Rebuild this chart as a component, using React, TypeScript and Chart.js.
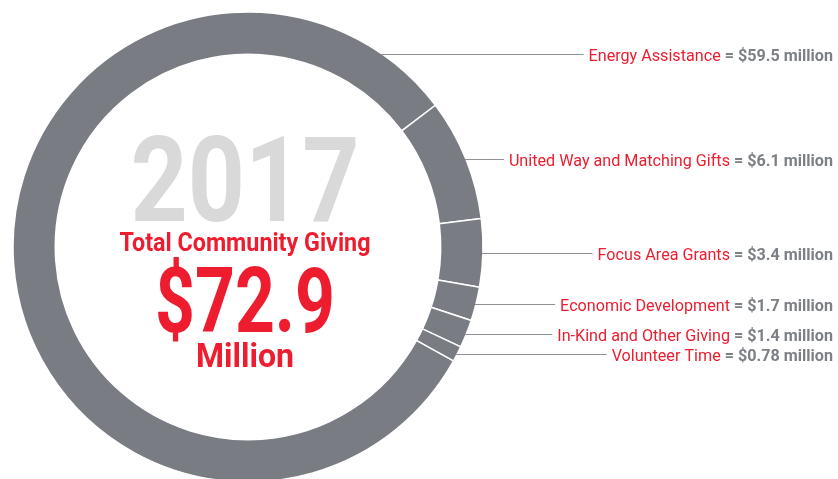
import React, { useEffect, useRef } from "react";
import { Chart, registerables } from "chart.js";

Chart.register(...registerables);

const categories = [
  "Energy Assistance",
  "United Way and Matching Gifts",
  "Focus Area Grants",
  "Economic Development",
  "In-Kind and Other Giving",
  "Volunteer Time",
];
const amounts = [59.5, 6.1, 3.4, 1.7, 1.4, 0.78];
const amountLabels = [
  "$59.5 million",
  "$6.1 million",
  "$3.4 million",
  "$1.7 million",
  "$1.4 million",
  "$0.78 million",
];
const yearLabel = "2017";
const titleLabel = "Total Community Giving";
const totalLabel = "$72.9";
const unitLabel = "Million";

const RED = "#ED1C2E";
const RING = "#797D83";
const GRAY_TEXT = "#7C8085";
const LIGHT = "#D9D9D9";
const LINE = "#8E9195";
const FONT = "Roboto, 'Liberation Sans', sans-serif";

function drawFit(ctx: CanvasRenderingContext2D, text: string, x: number, y: number, font: string, width: number, color: string) {
  ctx.save();
  ctx.font = font;
  ctx.fillStyle = color;
  ctx.textAlign = "center";
  ctx.textBaseline = "alphabetic";
  const w = ctx.measureText(text).width;
  ctx.translate(x, y);
  ctx.scale(width / w, 1);
  ctx.fillText(text, 0, 0);
  ctx.restore();
}

const overlayPlugin = {
  id: "overlay",
  afterDraw(chart: any) {
    const ctx: CanvasRenderingContext2D = chart.ctx;
    const meta = chart.getDatasetMeta(0);
    const arcs = meta.data;
    if (!arcs.length) return;
    const cx = arcs[0].x;
    const cy = arcs[0].y;
    const R = arcs[0].outerRadius;

    // center texts
    const tx = cx - 3;
    drawFit(ctx, yearLabel, tx, cy - 26, `bold 118px ${FONT}`, 229, LIGHT);
    drawFit(ctx, titleLabel, tx, cy + 4, `bold 25px ${FONT}`, 251, RED);
    drawFit(ctx, totalLabel, tx, cy + 85, `bold 91px ${FONT}`, 180, RED);
    drawFit(ctx, unitLabel, tx, cy + 120, `bold 33px ${FONT}`, 98, RED);

    // labels with leader lines
    const right = chart.width - 5;
    const sx = 0.95;
    arcs.forEach((arc: any, i: number) => {
      const span = arc.endAngle - arc.startAngle;
      const ang = span > Math.PI ? arc.endAngle - 0.32 : (arc.startAngle + arc.endAngle) / 2;
      const ly = Math.round(cy + R * Math.sin(ang));
      const dy = ly - cy;
      const lx0 = cx + Math.sqrt(Math.max(R * R - dy * dy, 0));

      ctx.save();
      ctx.textBaseline = "alphabetic";
      ctx.textAlign = "left";
      ctx.font = `bold 17px ${FONT}`;
      const grayText = "= " + amountLabels[i];
      const gw = ctx.measureText(grayText).width * sx;
      ctx.font = `17px ${FONT}`;
      const redText = categories[i];
      const rw = ctx.measureText(redText).width * sx;
      const space = 4;
      const gx = right - gw;
      const rx = gx - space - rw;
      const by = ly + 6.5;

      ctx.save();
      ctx.translate(rx, by);
      ctx.scale(sx, 1);
      ctx.fillStyle = RED;
      ctx.font = `17px ${FONT}`;
      ctx.fillText(redText, 0, 0);
      ctx.restore();

      ctx.save();
      ctx.translate(gx, by);
      ctx.scale(sx, 1);
      ctx.fillStyle = GRAY_TEXT;
      ctx.font = `bold 17px ${FONT}`;
      ctx.fillText(grayText, 0, 0);
      ctx.restore();

      ctx.strokeStyle = LINE;
      ctx.lineWidth = 1;
      ctx.beginPath();
      ctx.moveTo(lx0 - 1, ly + 0.5);
      ctx.lineTo(rx - 5, ly + 0.5);
      ctx.stroke();
      ctx.restore();
    });
  },
};

export default function App() {
  const canvasRef = useRef<HTMLCanvasElement>(null);

  useEffect(() => {
    document.body.style.margin = "0";
    const canvas = canvasRef.current;
    if (!canvas) return;
    const chart = new Chart(canvas, {
      type: "doughnut",
      data: {
        labels: categories,
        datasets: [
          {
            data: amounts,
            backgroundColor: RING,
            borderColor: "#FFFFFF",
            borderWidth: 1.5,
            hoverOffset: 0,
          },
        ],
      },
      options: {
        responsive: false,
        animation: false,
        rotation: 119,
        radius: 235,
        cutout: "82%",
        layout: { padding: { left: 13, top: 12, right: 355, bottom: 0 } },
        plugins: {
          legend: { display: false },
          tooltip: { enabled: false },
        },
        events: [],
      },
      plugins: [overlayPlugin],
    });
    return () => chart.destroy();
  }, []);

  return (
    <div style={{ width: 838, height: 479, overflow: "hidden", background: "#FFFFFF" }}>
      <canvas ref={canvasRef} width={838} height={482} style={{ display: "block" }} />
    </div>
  );
}
